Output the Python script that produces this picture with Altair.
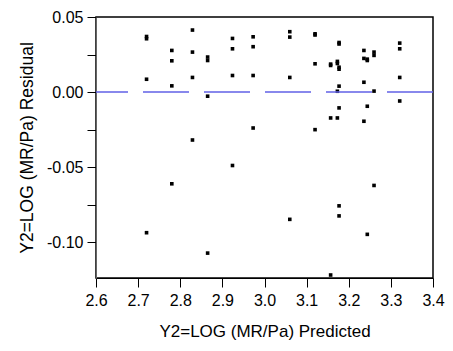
import altair as alt
import pandas as pd

x_pred = [
    2.720, 2.720, 2.720, 2.720,
    2.780, 2.780, 2.780, 2.780,
    2.829, 2.829, 2.829, 2.829,
    2.865, 2.865, 2.865, 2.865,
    2.924, 2.924, 2.924, 2.924,
    2.973, 2.973, 2.973, 2.973,
    3.060, 3.060, 3.060, 3.060,
    3.120, 3.120, 3.120, 3.120,
    3.157, 3.157, 3.157, 3.157,
    3.173, 3.173, 3.173, 3.173,
    3.177, 3.177, 3.177, 3.177, 3.177, 3.177, 3.177, 3.177,
    3.236, 3.236, 3.236, 3.236,
    3.244, 3.244, 3.244, 3.244,
    3.260, 3.260, 3.260, 3.260,
    3.321, 3.321, 3.321, 3.321,
]
resid = [
    0.0370, 0.0355, 0.0085, -0.0938,
    0.0277, 0.0208, 0.0041, -0.0612,
    0.0413, 0.0266, 0.0097, -0.0320,
    0.0233, 0.0210, -0.0028, -0.1074,
    0.0357, 0.0288, 0.0110, -0.0490,
    0.0368, 0.0302, 0.0110, -0.0240,
    0.0402, 0.0366, 0.0097, -0.0849,
    0.0388, 0.0380, 0.0188, -0.0251,
    0.0186, 0.0177, -0.0173, -0.1220,
    0.0204, 0.0190, 0.0005, -0.0173,
    0.0330, 0.0320, 0.0165, 0.0152, 0.0039, -0.0106, -0.0759, -0.0826,
    0.0277, 0.0224, 0.0065, -0.0195,
    0.0219, 0.0210, -0.0095, -0.0949,
    0.0266, 0.0244, 0.0006, -0.0623,
    0.0326, 0.0288, 0.0097, -0.0060,
]
x_ticks = [2.6, 2.7, 2.8, 2.9, 3.0, 3.1, 3.2, 3.3, 3.4]
y_ticks = [-0.1, -0.075, -0.05, -0.025, 0.0, 0.025, 0.05]
zero_line = [0.0]

df = pd.DataFrame({"pred": x_pred, "resid": resid})

FONT = "Liberation Sans"

xscale = alt.Scale(domain=[2.6, 3.4], nice=False, zero=False)
yscale = alt.Scale(domain=[-0.124, 0.05], nice=False, zero=False)

xaxis = alt.Axis(
    values=x_ticks, format=".1f", grid=False, ticks=True, domain=True,
    tickSize=9, tickWidth=1, tickColor="#000000", domainColor="#000000", domainWidth=1,
    labelPadding=5,
    labelFontSize=16, titleFontSize=17, labelFont=FONT, titleFont=FONT,
    labelColor="black", titleColor="black",
    titleFontWeight="normal", title="Y2=LOG (MR/Pa) Predicted",
    titleY=53, titleBaseline="middle", labelFlush=False,
)
yaxis = alt.Axis(
    values=y_ticks, grid=False, ticks=True, domain=True,
    tickSize=9, tickWidth=1, tickColor="#000000", domainColor="#666666", domainWidth=1,
    labelPadding=4,
    labelExpr="round(datum.value*1000) % 50 == 0 ? (datum.value < -0.0001 ? '-' : '') + format(abs(datum.value), '.2f') : ''",
    labelFontSize=16, titleFontSize=17.5, labelFont=FONT, titleFont=FONT,
    labelColor="black", titleColor="black",
    titleFontWeight="normal", title="Y2=LOG (MR/Pa) Residual",
    titleX=-69, titleBaseline="middle", labelFlush=False,
)

points = alt.Chart(df).mark_square(size=13, color="black", opacity=1).encode(
    x=alt.X("pred:Q", scale=xscale, axis=xaxis),
    y=alt.Y("resid:Q", scale=yscale, axis=yaxis),
)

zero = alt.Chart(pd.DataFrame({"resid": zero_line})).mark_rule(
    color="#6262e6", strokeWidth=1.5, strokeDash=[46, 15]
).encode(y=alt.Y("resid:Q", scale=yscale, axis=yaxis))

chart = alt.layer(points, zero).properties(
    width=337, height=261,
    background="white",
    autosize=alt.AutoSizeParams(type="none"),
    padding={"left": 88, "top": 9, "right": 12, "bottom": 63},
).configure_view(
    stroke="#000000", strokeWidth=1.5
)

chart.save("out.html", embed_options={"renderer": "svg", "actions": False})
